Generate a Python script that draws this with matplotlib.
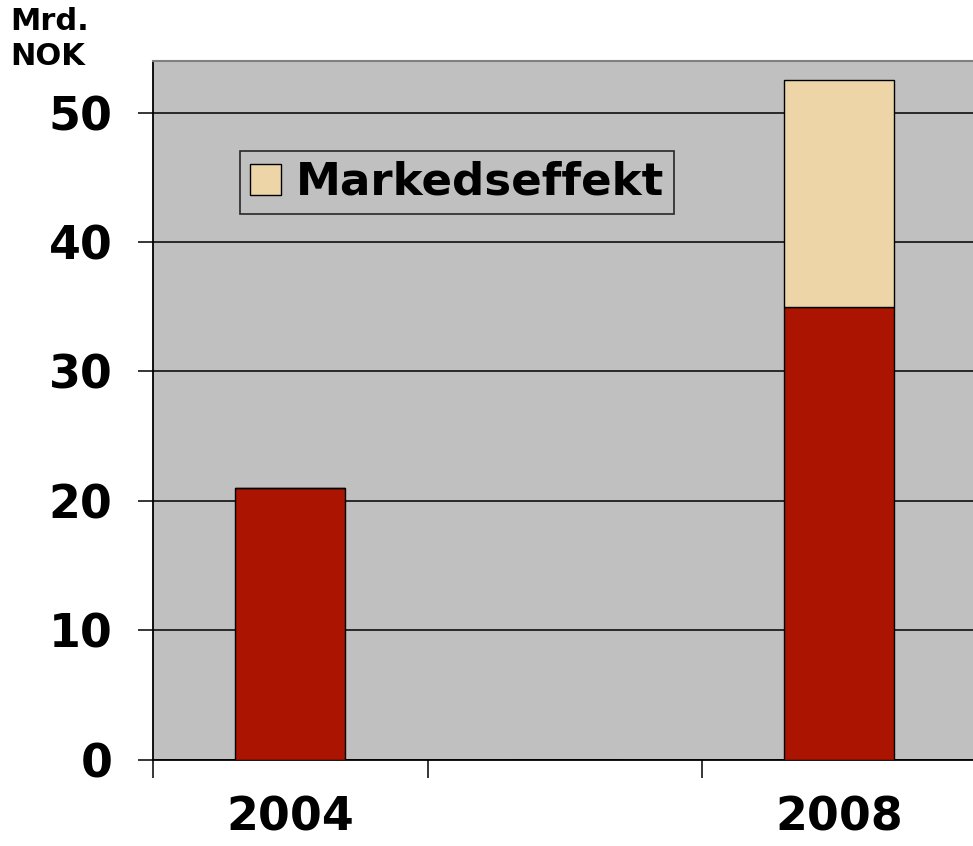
import numpy as np
import matplotlib
matplotlib.use("Agg")
import matplotlib.pyplot as plt
from matplotlib.patches import Patch

# data
categories = ["2004", "", "2008"]
base_values = [21.0, 0.0, 35.0]
market_values = [0.0, 0.0, 17.5]
y_ticks = [0, 10, 20, 30, 40, 50]

RED = "#AA1400"
BEIGE = "#EDD5A8"
BG = "#C0C0C0"

W, H = 973, 846
fig = plt.figure(figsize=(W / 100, H / 100), dpi=100)
plt.rcParams['font.family'] = ['DejaVu Sans']
plt.rcParams['font.weight'] = 'bold'

# plot area runs slightly past the right edge of the image
ax = fig.add_axes([153 / W, 86.5 / H, 823.5 / W, 698.5 / H])
ax.set_facecolor(BG)

x = np.arange(len(categories))
ax.bar(x, base_values, width=0.4, color=RED, edgecolor="black", linewidth=1.0, zorder=3)
ax.bar(x, market_values, bottom=base_values, width=0.4, color=BEIGE,
       edgecolor="black", linewidth=1.0, zorder=3)

ax.set_xlim(-0.5, len(categories) - 0.5)
ax.set_ylim(0, 54)

ax.set_yticks(y_ticks)
ax.set_yticklabels([str(t) for t in y_ticks], fontsize=33, fontweight='bold')
ax.yaxis.grid(True, color="black", linewidth=1.1, zorder=1)
ax.set_axisbelow(True)

# major ticks on the category borders, labels on the centres
ax.set_xticks(np.arange(len(categories) + 1) - 0.5)
ax.set_xticklabels([])
ax.set_xticks(x, minor=True)
ax.set_xticklabels(categories, minor=True, fontsize=33, fontweight='bold')
ax.tick_params(axis='x', which='minor', length=0, pad=26)
ax.tick_params(axis='x', which='major', length=13, width=1.1, direction='out')
ax.tick_params(axis='y', length=11, width=1.1, direction='out', pad=18)

ax.spines['left'].set_color('black')
ax.spines['left'].set_linewidth(1.3)
ax.spines['bottom'].set_color('black')
ax.spines['bottom'].set_linewidth(1.3)
ax.spines['top'].set_color('#808080')
ax.spines['top'].set_linewidth(1.5)
ax.spines['right'].set_visible(False)

handle = Patch(facecolor=BEIGE, edgecolor='black', linewidth=1.0)
leg = ax.legend([handle], ["Markedseffekt"], loc='upper left',
                bbox_to_anchor=(240 / W, 1 - 151 / H),
                bbox_transform=fig.transFigure, borderaxespad=0,
                prop={'size': 32.5, 'weight': 'bold'}, frameon=True, fancybox=False,
                handlelength=0.68, handleheight=0.68, handletextpad=0.33,
                borderpad=0.22)
leg.get_frame().set_edgecolor('black')
leg.get_frame().set_facecolor('none')
leg.get_frame().set_linewidth(1.2)

fig.text(10 / W, 1 - 7 / H, "Mrd.\nNOK", fontsize=22, fontweight='bold',
         ha='left', va='top', linespacing=1.25)

fig.savefig("out.png", dpi=100, facecolor='white')
